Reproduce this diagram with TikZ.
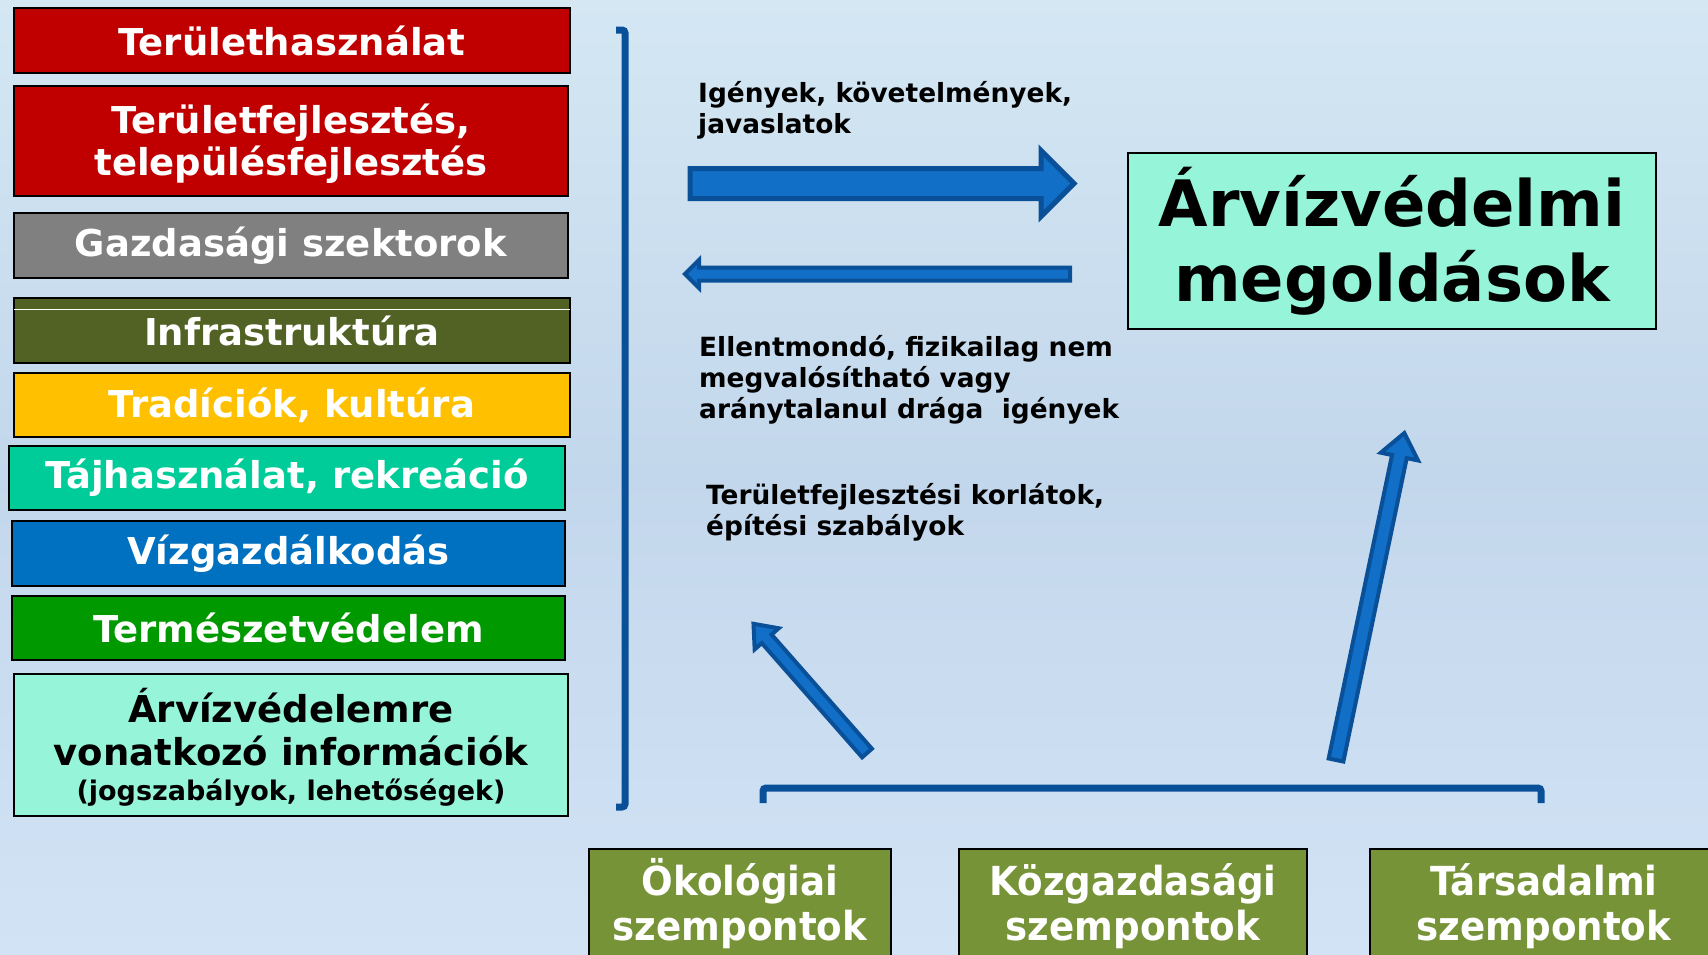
\documentclass[tikz,border=0pt]{standalone}
\usepackage{fontspec}
\setmainfont{DejaVu Sans}
\newfontfamily\condf{DejaVu Sans}[FakeStretch=0.93]
\usetikzlibrary{calc}
\definecolor{bgtop}{RGB}{212,231,243}
\definecolor{bgmid}{RGB}{195,215,236}
\definecolor{bgbot}{RGB}{210,227,245}
\definecolor{cred}{RGB}{192,0,0}
\definecolor{cgray}{RGB}{128,128,128}
\definecolor{colive}{RGB}{82,98,36}
\definecolor{cgold}{RGB}{255,192,0}
\definecolor{cteal}{RGB}{0,204,153}
\definecolor{cblue}{RGB}{0,112,192}
\definecolor{cgreen}{RGB}{0,153,0}
\definecolor{cmint}{RGB}{150,245,216}
\definecolor{cbot}{RGB}{119,147,56}
\definecolor{arfill}{RGB}{17,111,200}
\definecolor{arline}{RGB}{9,80,152}
\newcommand{\blockarrow}[7]{% tail, angle, length, half shaft, half head, head length, line width
  \begin{scope}[shift={#1}, rotate=#2]
    \draw[arrowsty, line width=#7] (0,#4) -- ({#3-#6},#4) -- ({#3-#6},#5) -- (#3,0)
      -- ({#3-#6},-#5) -- ({#3-#6},-#4) -- (0,-#4) -- cycle;
  \end{scope}}
\begin{document}
\begin{tikzpicture}[x=1pt,y=-1pt,
  lbox/.style={draw=black, line width=2pt, inner sep=0pt, align=center, text=white,
    font=\bfseries\fontsize{37}{42}\selectfont},
  ltxt/.style={inner sep=0pt, align=center, font=\bfseries\fontsize{37}{42}\selectfont},
  lbl/.style={inner sep=0pt, align=left, text=black, font=\bfseries\fontsize{26.4}{31}\selectfont},
  bbox/.style={draw=black, line width=2pt, fill=cbot, inner sep=0pt},
  btxt/.style={inner sep=0pt, align=center, text=white, font=\condf\bfseries\fontsize{40}{45}\selectfont},
  brk/.style={draw=arline, line width=7pt, rounded corners=3pt},
  arrowsty/.style={fill=arfill, draw=arline, line join=miter}]
\useasboundingbox (0,0) rectangle (1708,954);
\shade[top color=bgtop, bottom color=bgbot, middle color=bgmid] (0,0) rectangle (1708,954);

% left column
\node[lbox, fill=cred, minimum width=556, minimum height=65] (b1) at (292,40.5) {Területhasználat};
\node[lbox, fill=cred, minimum width=554, minimum height=110] (b2) at (291,141) {};
\node[ltxt, text=white, anchor=base] (b2t) at (291,175) {Területfejlesztés,\\településfejlesztés};
\node[lbox, fill=cgray, minimum width=554, minimum height=65] (b3) at (291,245.5) {Gazdasági szektorok};
\node[lbox, fill=colive, minimum width=556, minimum height=65] (b4) at (292,330.5) {\raisebox{-3pt}{Infrastruktúra}};
\draw[white, line width=1pt] ([xshift=1pt,yshift=-12pt]b4.north west) -- ([xshift=-1pt,yshift=-12pt]b4.north east);
\node[lbox, fill=cgold, minimum width=556, minimum height=64] (b5) at (292,405) {Tradíciók, kultúra};
\node[lbox, fill=cteal, minimum width=556, minimum height=64] (b6) at (287,478) {Tájhasználat, rekreáció};
\node[lbox, fill=cblue, minimum width=553, minimum height=65] (b7) at (288.5,553.5) {Vízgazdálkodás};
\node[lbox, fill=cgreen, minimum width=553, minimum height=64] (b8) at (288.5,628) {Természetvédelem};
\node[lbox, fill=cmint, text=black, minimum width=554, minimum height=142] (b9) at (291,745) {};
\node[ltxt, text=black, font=\bfseries\fontsize{37}{43}\selectfont, anchor=base] (b9t) at (291,765)
  {Árvízvédelemre\\vonatkozó információk};
\node[inner sep=0pt, text=black, font=\bfseries\fontsize{27}{30}\selectfont, anchor=base] (b9s) at (291,800)
  {(jogszabályok, lehetőségek)};

% bracket
\coordinate (bt) at (616,30);
\coordinate (bb) at (616,807);
\draw[brk] (bt) -- ++(9,0) |- (bb);

% main box
\node[draw=black, line width=2pt, fill=cmint, inner sep=0pt, minimum width=528, minimum height=176,
  align=center, font=\bfseries\fontsize{64}{75}\selectfont] (main) at (1392,241) {Árvízvédelmi\\megoldások};

% labels
\node[lbl, anchor=base west] (t1) at (698,133) {Igények, követelmények,\\javaslatok};
\node[lbl, anchor=base west] (t2) at (699,418) {Ellentmondó, fizikailag nem\\megvalósítható vagy\\aránytalanul drága~ igények};
\node[lbl, anchor=base west] (t3) at (706,535) {Területfejlesztési korlátok,\\építési szabályok};

% arrows
\coordinate (a1) at (690,183.5);
\blockarrow{(a1)}{0}{384}{15}{33}{33}{5pt}
\coordinate (a2) at (1070,274);
\blockarrow{(a2)}{180}{385}{6.5}{14}{14}{4pt}
\coordinate (a3) at (867,753);
\blockarrow{(a3)}{131.3}{172}{6.5}{16}{20}{4pt}
\coordinate (a4) at (1336,760);
\blockarrow{(a4)}{78.2}{334}{7.5}{19}{24}{4pt}

% bottom bracket
\coordinate (cl) at (763,803);
\coordinate (cr) at (1541,803);
\draw[brk] (cl) -- ++(0,-15) -| (cr);

% bottom boxes
\node[bbox, minimum width=302, minimum height=150, anchor=north] (k1) at (740,848) {};
\node[bbox, minimum width=348, minimum height=150, anchor=north] (k2) at (1133,848) {};
\node[bbox, minimum width=360, minimum height=150, anchor=north west] (k3) at (1369,848) {};
\node[btxt, anchor=base] (k1t) at (740,940) {Ökológiai\\szempontok};
\node[btxt, anchor=base] (k2t) at (1133,940) {Közgazdasági\\szempontok};
\node[btxt, anchor=base] (k3t) at (1544,940) {Társadalmi\\szempontok};
\end{tikzpicture}
\end{document}
